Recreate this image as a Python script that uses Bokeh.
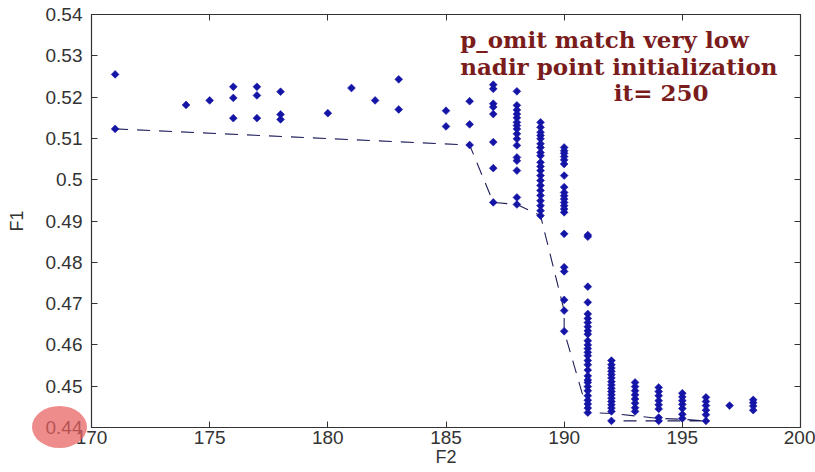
import math
from bokeh.plotting import figure
from bokeh.layouts import column
from bokeh.models import FixedTicker, LinearAxis, Label, Range1d, Div
from bokeh.embed import file_html
from bokeh.resources import INLINE

# ---------------- data ----------------
x_ticks = [170, 175, 180, 185, 190, 195, 200]
x_tick_labels = ["170", "175", "180", "185", "190", "195", "200"]
y_ticks = [0.44, 0.45, 0.46, 0.47, 0.48, 0.49, 0.5, 0.51, 0.52, 0.53, 0.54]
y_tick_labels = ["0.44", "0.45", "0.46", "0.47", "0.48", "0.49", "0.5", "0.51", "0.52", "0.53", "0.54"]

f2_columns = [171, 174, 175, 176, 177, 178, 180, 181, 182, 183, 185, 186,
              187, 188, 189, 190, 191, 192, 193, 194, 195, 196, 197, 198]
f1_171 = [0.5255, 0.5123]
f1_174 = [0.5181]
f1_175 = [0.5192]
f1_176 = [0.5225, 0.5198, 0.5149]
f1_177 = [0.5225, 0.5204, 0.5149]
f1_178 = [0.5213, 0.5158, 0.5146]
f1_180 = [0.5161]
f1_181 = [0.5222]
f1_182 = [0.5192]
f1_183 = [0.5243, 0.5170]
f1_185 = [0.5167, 0.5129]
f1_186 = [0.5190, 0.5134, 0.5084]
f1_187 = [0.5230, 0.5220, 0.5184, 0.5176, 0.5159, 0.5091, 0.5028, 0.4945]
f1_188 = [0.5214, 0.5180, 0.5169, 0.5159, 0.5150, 0.5139, 0.5131, 0.5123, 0.5111,
          0.5099, 0.5083, 0.5054, 0.5046, 0.5022, 0.4957, 0.4940]
f1_189 = [0.5139, 0.5127, 0.5115, 0.5107, 0.5099, 0.5087, 0.5078, 0.5066, 0.5058,
          0.5042, 0.5032, 0.5022, 0.5010, 0.4998, 0.4986, 0.4974, 0.4962, 0.4949,
          0.4937, 0.4925, 0.4913]
f1_190 = [0.5078, 0.5070, 0.5064, 0.5056, 0.5048, 0.5038, 0.5010, 0.4982, 0.4969,
          0.4961, 0.4953, 0.4945, 0.4937, 0.4929, 0.4921, 0.4869, 0.4788, 0.4778,
          0.4709, 0.4683, 0.4633]
f1_191 = [0.4866, 0.4862, 0.4741, 0.4703, 0.4675, 0.4664, 0.4654, 0.4644, 0.4634,
          0.4626, 0.4610, 0.4600, 0.4591, 0.4582, 0.4574, 0.4562, 0.4552, 0.4539,
          0.4525, 0.4515, 0.4509, 0.4499, 0.4489, 0.4477, 0.4466, 0.4457, 0.4447, 0.4436]
f1_192 = [0.4562, 0.4552, 0.4544, 0.4536, 0.4528, 0.4520, 0.4511, 0.4503, 0.4495,
          0.4487, 0.4479, 0.4471, 0.4463, 0.4455, 0.4447, 0.4439, 0.4416]
f1_193 = [0.4509, 0.4499, 0.4489, 0.4479, 0.4469, 0.4459, 0.4448, 0.4439]
f1_194 = [0.4497, 0.4487, 0.4477, 0.4465, 0.4455, 0.4445, 0.4424, 0.4416]
f1_195 = [0.4483, 0.4474, 0.4465, 0.4456, 0.4446, 0.4432, 0.4422]
f1_196 = [0.4473, 0.4463, 0.4453, 0.4442, 0.4431, 0.4416]
f1_197 = [0.4453]
f1_198 = [0.4467, 0.4460, 0.4452, 0.4442]
f1_columns = [f1_171, f1_174, f1_175, f1_176, f1_177, f1_178, f1_180, f1_181, f1_182,
              f1_183, f1_185, f1_186, f1_187, f1_188, f1_189, f1_190, f1_191, f1_192,
              f1_193, f1_194, f1_195, f1_196, f1_197, f1_198]

front_f2 = [171, 186, 187, 188, 189, 190, 190, 191, 192, 193, 194, 195, 196, 192]
front_f1 = [0.5123, 0.5084, 0.4945, 0.4940, 0.4913, 0.4683, 0.4633, 0.4436,
            0.4434, 0.4428, 0.4422, 0.4420, 0.4416, 0.4416]

title_lines = ["p_omit match very low", "nadir point initialization", "it= 250"]

# ---------------- build ----------------
pts_x, pts_y = [], []
for f2, col in zip(f2_columns, f1_columns):
    for f1 in col:
        pts_x.append(f2)
        pts_y.append(f1)

W, H = 815, 472
p = figure(width=W, height=H, output_backend="svg", toolbar_location=None,
           x_range=Range1d(170, 200), y_range=Range1d(0.44, 0.54),
           x_axis_label="F2", y_axis_label="F1")
p.min_border_left = 91
p.min_border_right = 15
p.min_border_top = 14
p.min_border_bottom = 45
p.background_fill_color = "white"
p.border_fill_color = "white"
p.grid.visible = False
p.outline_line_color = "#333333"
p.outline_line_width = 1.2

axis_font = "Liberation Sans"
for ax in p.xaxis + p.yaxis:
    ax.axis_line_color = "#333333"
    ax.major_tick_line_color = "#333333"
    ax.major_tick_in = 6
    ax.major_tick_out = 0
    ax.minor_tick_line_color = None
    ax.major_label_text_font = axis_font
    ax.major_label_text_font_size = "19px"
    ax.major_label_text_color = "#333333"
    ax.axis_label_text_font = axis_font
    ax.axis_label_text_font_size = "18px"
    ax.axis_label_text_font_style = "normal"
    ax.axis_label_text_color = "#333333"

p.xaxis.ticker = FixedTicker(ticks=x_ticks)
p.xaxis.major_label_overrides = {v: s for v, s in zip(x_ticks, x_tick_labels)}
p.xaxis.major_label_standoff = 3
p.xaxis.axis_label_standoff = 0
p.yaxis.ticker = FixedTicker(ticks=y_ticks)
p.yaxis.major_label_overrides = {v: s for v, s in zip(y_ticks, y_tick_labels)}
p.yaxis.major_label_standoff = 9
p.yaxis.axis_label_standoff = 16

# mirrored ticks on top and right (box on)
for loc, tks in (("above", x_ticks), ("right", y_ticks)):
    ax = LinearAxis(ticker=FixedTicker(ticks=tks))
    ax.axis_line_color = None
    ax.major_tick_line_color = "#333333"
    ax.major_tick_in = 6
    ax.major_tick_out = 0
    ax.minor_tick_line_color = None
    ax.major_label_text_font_size = "0px"
    ax.major_label_text_color = None
    ax.major_label_standoff = 0
    p.add_layout(ax, loc)

p.line(front_f2, front_f1, line_color="#1e1e5a", line_width=1.1, line_dash="13 9")
p.scatter(pts_x, pts_y, marker="square", angle=math.pi / 4, size=5.5,
          fill_color="#1414a6", line_color="#1414a6", line_width=0.6)

title_color = "#7a1c1c"
for txt, xx, yy in zip(title_lines, [185.6, 185.6, 192.1], [0.5339, 0.5274, 0.5210]):
    p.add_layout(Label(x=xx, y=yy, text=txt, text_font="DejaVu Serif",
                       text_font_style="bold", text_font_size="23px",
                       text_color=title_color, text_baseline="middle", text_align="left"))

# red highlight around the lower-left tick label (overlaid via negative margin)
highlight = Div(text='<div style="width:55px;height:42px;border-radius:50%;'
                     'background:rgba(232,95,95,0.72);"></div>',
                width=55, height=42, margin=(-66, 0, 0, 32))

layout = column(p, highlight, spacing=0)
open("out.html", "w").write(file_html(layout, INLINE))
